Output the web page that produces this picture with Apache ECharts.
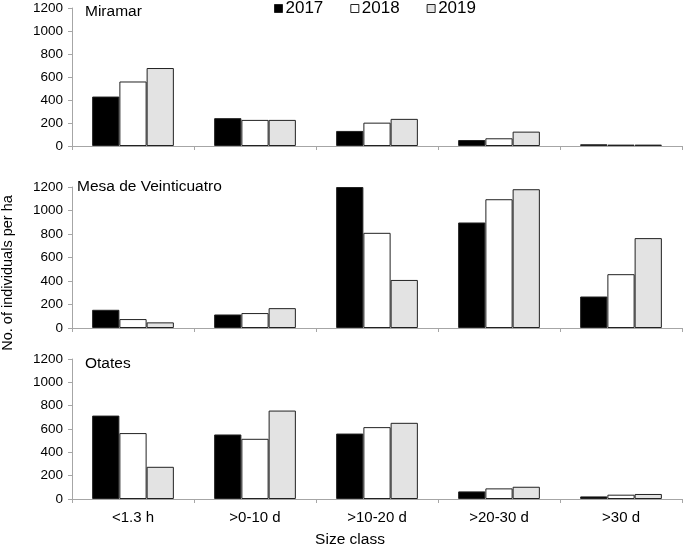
<!DOCTYPE html>
<html>
<head>
<meta charset="utf-8">
<script src="https://cdn.jsdelivr.net/npm/echarts@6/dist/echarts.min.js"></script>
<style>
html,body{margin:0;padding:0;background:#fff;}
#chart{width:692px;height:547px;}
</style>
</head>
<body>
<div id="chart"></div>
<script>
const categories = ['<1.3 h', '>0-10 d', '>10-20 d', '>20-30 d', '>30 d'];
const years = ['2017', '2018', '2019'];
const sites = ['Miramar', 'Mesa de Veinticuatro', 'Otates'];
const yTicks = [0, 200, 400, 600, 800, 1000, 1200];

const miramar2017 = [430, 242, 131, 52, 15];
const miramar2018 = [561, 227, 203, 67, 12];
const miramar2019 = [678, 227, 236, 125, 12];

const mesa2017 = [155, 115, 1200, 898, 268];
const mesa2018 = [76, 127, 810, 1096, 458];
const mesa2019 = [48, 169, 409, 1181, 765];

const otates2017 = [715, 553, 561, 65, 22];
const otates2018 = [565, 516, 616, 91, 37];
const otates2019 = [276, 758, 653, 105, 43];

const siteData = [
  [miramar2017, miramar2018, miramar2019],
  [mesa2017, mesa2018, mesa2019],
  [otates2017, otates2018, otates2019]
];

const fills = ['#000000', '#ffffff', '#e3e3e3'];
const FONT = '"Liberation Sans", Arial, sans-serif';
const grids = [
  {left: 72, right: 10, top: 8, height: 138},
  {left: 72, right: 10, top: 187, height: 141},
  {left: 72, right: 10, top: 359, height: 140}
];
const titlePos = [[85, 13], [77, 188], [85, 365]];

const xAxes = grids.map((g, i) => ({
  type: 'category', gridIndex: i, data: categories,
  boundaryGap: true,
  axisLine: {show: true, lineStyle: {color: '#a6a6a6', width: 1}},
  axisTick: {show: true, length: 4, lineStyle: {color: '#a6a6a6'}},
  axisLabel: {show: i === 2, color: '#000', fontSize: 15, fontFamily: FONT, margin: 11}
}));
const yAxes = grids.map((g, i) => ({
  type: 'value', gridIndex: i, min: yTicks[0], max: yTicks[yTicks.length - 1], interval: 200,
  axisLine: {show: true, lineStyle: {color: '#a6a6a6', width: 1}},
  axisTick: {show: true, length: 4, lineStyle: {color: '#a6a6a6'}},
  splitLine: {show: false},
  axisLabel: {color: '#000', fontSize: 13.5, fontFamily: FONT, margin: 9,
    formatter: v => String(v)}
}));

const series = [];
siteData.forEach((arrs, gi) => {
  arrs.forEach((vals, yi) => {
    series.push({
      name: years[yi], type: 'bar', xAxisIndex: gi, yAxisIndex: gi,
      data: vals, barGap: '0%', barCategoryGap: '33%',
      itemStyle: {color: fills[yi], borderColor: '#222', borderWidth: 1},
      emphasis: {disabled: true}, animation: false
    });
  });
});

const chart = echarts.init(document.getElementById('chart'), null, {renderer: 'canvas'});
chart.setOption({
  backgroundColor: '#fff',
  animation: false,
  legend: {
    data: years.map((y, i) => ({name: y, itemStyle: {color: fills[i], borderColor: '#222', borderWidth: 1}})),
    left: 274, top: 0, padding: 0,
    icon: 'rect', itemWidth: 8, itemHeight: 8, itemGap: 27,
    textStyle: {fontSize: 17, color: '#000', fontFamily: FONT, padding: [0, 0, 0, -2]}
  },
  grid: grids,
  xAxis: xAxes,
  yAxis: yAxes,
  series: series,
  graphic: [
    ...sites.map((s, i) => ({
      type: 'text', left: titlePos[i][0], top: titlePos[i][1] - 9,
      style: {text: s, fontSize: 15.5, fill: '#000', fontFamily: FONT}
    })),
    {
      type: 'text', x: 8, y: 273, rotation: Math.PI / 2,
      style: {text: 'No. of individuals per ha', fontSize: 14.5, fill: '#000', fontFamily: FONT,
        align: 'center', verticalAlign: 'middle'}
    },
    {
      type: 'text', x: 350, y: 540,
      style: {text: 'Size class', fontSize: 15.5, fill: '#000', fontFamily: FONT,
        align: 'center', verticalAlign: 'middle'}
    }
  ]
});
</script>
</body>
</html>
